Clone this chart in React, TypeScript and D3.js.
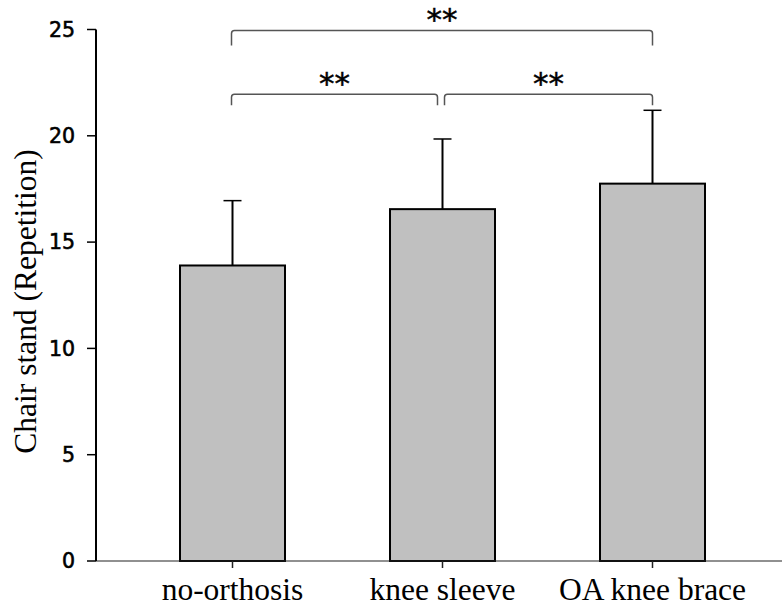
import React from 'react';
import * as d3 from 'd3';

// chart data
const categories = ['no-orthosis', 'knee sleeve', 'OA knee brace'];
const means = [13.9, 16.55, 17.75];
const errorTops = [16.95, 19.85, 21.2];
const yTicks = [0, 5, 10, 15, 20, 25];
// significance brackets: [from index, to index, level, label]
const brackets: [number, number, number, string][] = [
  [0, 2, 24.95, '**'],
  [0, 1, 21.95, '**'],
  [1, 2, 21.95, '**'],
];

const W = 782;
const H = 612;
const axisX = 96;

const App = () => {
  const x = d3.scaleBand<string>()
    .domain(categories)
    .range([127.5, 757.5])
    .paddingInner(0.5)
    .paddingOuter(0.25);
  const y = d3.scaleLinear().domain([0, 25]).range([561, 29.5]);
  const bw = x.bandwidth();
  const cx = (i: number) => (x(categories[i]) as number) + bw / 2;

  // bracket path with small rounded corners
  const bracketPath = (x1: number, x2: number, yTop: number, yLeg: number) => {
    const r = 3;
    return `M${x1},${yLeg} L${x1},${yTop + r} Q${x1},${yTop} ${x1 + r},${yTop} ` +
      `L${x2 - r},${yTop} Q${x2},${yTop} ${x2},${yTop + r} L${x2},${yLeg}`;
  };

  return (
    <svg width={W} height={H} style={{ position: 'absolute', left: 0, top: 0, background: '#fff' }}>
      {/* bars */}
      {categories.map((c, i) => (
        <g key={c}>
          <line x1={cx(i)} x2={cx(i)} y1={y(means[i])} y2={y(errorTops[i])} stroke="#000" strokeWidth={2} />
          <line x1={cx(i) - 9} x2={cx(i) + 9} y1={y(errorTops[i])} y2={y(errorTops[i])} stroke="#000" strokeWidth={1.5} />
          <rect x={x(c)} y={y(means[i])} width={bw} height={y(0) - y(means[i])}
            fill="#c0c0c0" stroke="#000" strokeWidth={2} />
        </g>
      ))}

      {/* x axis */}
      <line x1={axisX} x2={W} y1={y(0)} y2={y(0)} stroke="#222" strokeWidth={1.2} />
      {categories.map((c, i) => (
        <g key={'xt' + c}>
          <line x1={cx(i)} x2={cx(i)} y1={y(0)} y2={y(0) + 7} stroke="#222" strokeWidth={1.5} />
          <text x={cx(i)} y={600} textAnchor="middle"
            style={{ font: '31.5px "Liberation Serif", "Times New Roman", serif' }}>{c}</text>
        </g>
      ))}

      {/* y axis */}
      <line x1={axisX} x2={axisX} y1={y(25)} y2={y(0)} stroke="#000" strokeWidth={2} />
      {yTicks.map(t => (
        <g key={'yt' + t}>
          <line x1={axisX - 9} x2={axisX} y1={y(t)} y2={y(t)} stroke="#000" strokeWidth={1.5} />
          <text x={75} y={y(t)} dy="0.35em" textAnchor="end" stroke="#000" strokeWidth={0.6}
            style={{ font: '20.5px "DejaVu Sans", sans-serif' }}>{t}</text>
        </g>
      ))}
      <text transform={`translate(36,${(145 + 458) / 2}) rotate(-90)`} textAnchor="middle"
        style={{ font: '31.5px "Liberation Serif", "Times New Roman", serif' }}>
        Chair stand (Repetition)
      </text>

      {/* significance brackets */}
      {brackets.map(([a, b, lvl, lab], k) => {
        const gapL = b - a === 1 && a === 0 ? -5 : 0;
        const gapR = b - a === 1 && a === 1 ? 3 : 0;
        const x1 = cx(a) + gapR - 1;
        const x2 = b - a === 1 && a === 0 ? cx(b) + gapL : cx(b);
        const yTop = y(lvl);
        const yLeg = yTop + (b - a === 2 ? 15 : 11);
        return (
          <g key={'br' + k}>
            <path d={bracketPath(x1, x2, yTop, yLeg)} fill="none" stroke="#555" strokeWidth={1.5} />
            <text x={(x1 + x2) / 2} y={yTop - 0.5} textAnchor="middle" stroke="#000" strokeWidth={0.5}
              style={{ font: '31px "DejaVu Sans", sans-serif' }}>{lab}</text>
          </g>
        );
      })}
    </svg>
  );
};

export default App;
